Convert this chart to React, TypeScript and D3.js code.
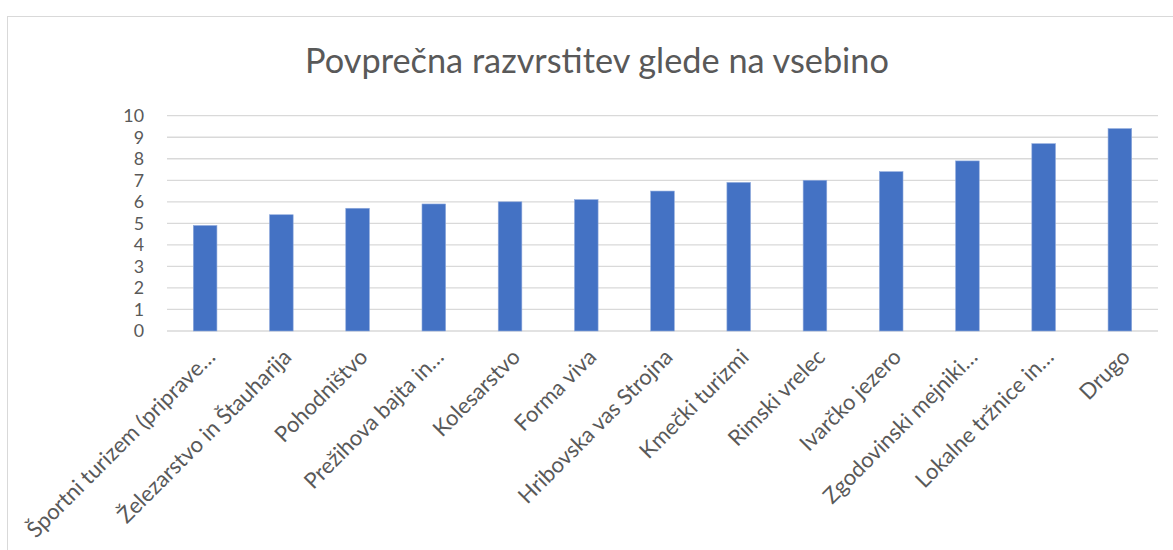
import React from 'react'
import * as d3 from 'd3'

const categories = [
  'Športni turizem (priprave…',
  'Železarstvo in Štauharija',
  'Pohodništvo',
  'Prežihova bajta in…',
  'Kolesarstvo',
  'Forma viva',
  'Hribovska vas Strojna',
  'Kmečki turizmi',
  'Rimski vrelec',
  'Ivarčko jezero',
  'Zgodovinski mejniki…',
  'Lokalne tržnice in…',
  'Drugo',
]
const values = [4.9, 5.4, 5.7, 5.9, 6.0, 6.1, 6.5, 6.9, 7.0, 7.4, 7.9, 8.7, 9.4]
const yTicks = [0, 1, 2, 3, 4, 5, 6, 7, 8, 9, 10]
const title = 'Povprečna razvrstitev glede na vsebino'

const W = 1173
const H = 550
const left = 167
const right = 1158
const top = 115.7
const bottom = 331
const font = 'Lato, sans-serif'

export default function App() {
  const x = d3.scaleBand().domain(categories).range([left, right]).paddingInner(0.69).paddingOuter(0.345)
  const y = d3.scaleLinear().domain([0, 10]).range([bottom, top])

  return (
    <svg width={W} height={H} style={{ position: 'absolute', left: 0, top: 0, background: '#fff' }}>
      <rect x={7.5} y={16.5} width={W} height={H} fill="#fff" stroke="#d9d9d9" strokeWidth={1} />
      <text x={597} y={73} textAnchor="middle" fontFamily={font} fontSize={34.3} fill="#595959">
        {title}
      </text>
      {/* gridlines */}
      {yTicks.map((t) => (
        <line key={t} x1={left} x2={right} y1={y(t)} y2={y(t)} stroke="#d9d9d9" strokeWidth={1.3} />
      ))}
      {yTicks.map((t) => (
        <text key={'l' + t} x={144} y={y(t)} dy="0.36em" textAnchor="end" fontFamily={font} fontSize={17.8} fill="#595959">
          {t}
        </text>
      ))}
      {categories.map((c, i) => (
        <rect
          key={c}
          x={x(c)}
          y={y(values[i])}
          width={x.bandwidth()}
          height={bottom - y(values[i])}
          fill="#4472c4"
          stroke="#8faadc"
          strokeWidth={0.6}
        />
      ))}
      {categories.map((c) => {
        const cx = (x(c) ?? 0) + x.bandwidth() / 2
        return (
          <text
            key={'c' + c}
            transform={`translate(${cx + 6},${353}) rotate(-45)`}
            textAnchor="end"
            dy="0.35em"
            fontFamily={font}
            fontSize={22}
            fill="#595959"
          >
            {c}
          </text>
        )
      })}
    </svg>
  )
}
